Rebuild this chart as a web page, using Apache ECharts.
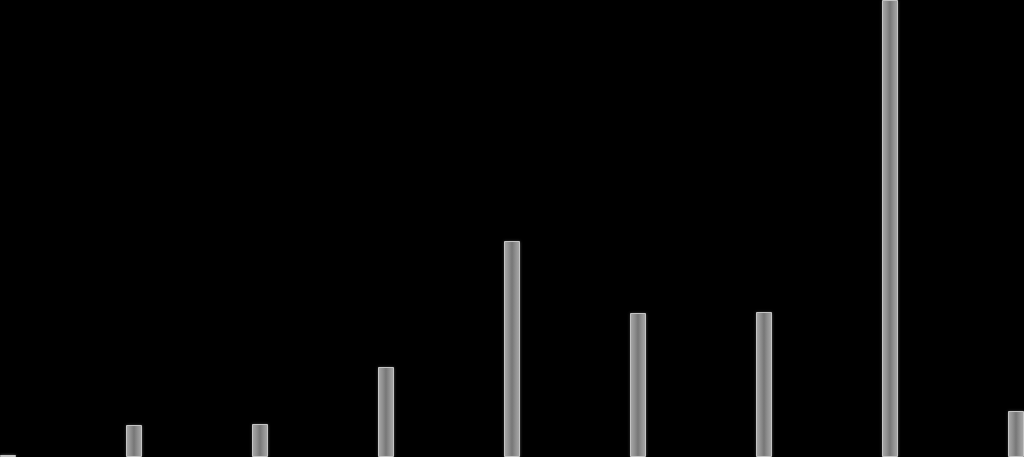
<!DOCTYPE html>
<html>
<head>
<meta charset="utf-8">
<style>
html,body{margin:0;padding:0;background:#000;}
#chart{width:1024px;height:457px;}
</style>
<script src="https://cdn.jsdelivr.net/npm/echarts@6/dist/echarts.min.js"></script>
</head>
<body>
<div id="chart"></div>
<script>
// 数据
var categories = ['1', '2', '3', '4', '5', '6', '7', '8', '9'];
var values = [2, 32, 33, 90, 216, 144, 145, 457, 46];

var chart = echarts.init(document.getElementById('chart'));
var option = {
    backgroundColor: '#000',
    animation: false,
    grid: {left: 8, right: 8, top: 0, bottom: 0},
    xAxis: {
        type: 'category',
        boundaryGap: false,
        data: categories,
        show: false
    },
    yAxis: {
        type: 'value',
        min: 0,
        max: 457,
        show: false
    },
    series: [{
        type: 'bar',
        barWidth: 16,
        data: values,
        itemStyle: {
            borderColor: '#c4c4c4',
            borderWidth: 1,
            shadowColor: 'rgba(140,140,140,0.5)',
            shadowBlur: 3,
            color: {
                type: 'linear', x: 0, y: 0, x2: 1, y2: 0,
                colorStops: [
                    {offset: 0, color: '#b0b0b0'},
                    {offset: 0.5, color: '#777777'},
                    {offset: 1, color: '#b0b0b0'}
                ]
            }
        }
    }]
};
chart.setOption(option);
</script>
</body>
</html>
